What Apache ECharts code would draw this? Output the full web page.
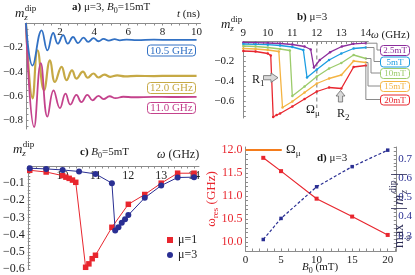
<!DOCTYPE html>
<html>
<head>
<meta charset="utf-8">
<script src="https://cdn.jsdelivr.net/npm/echarts@6.0.0/dist/echarts.min.js"></script>
<style>
html,body{margin:0;padding:0;background:#fff;}
#chart{width:415px;height:275px;}
</style>
</head>
<body>
<div id="chart"></div>
<script>
// ===== Panel a) m_z^dip vs t (ns), mu=3, B0=15mT =====
const aTime105 = [0, 0.39, 0.92, 1.26, 1.6, 1.87, 2.18, 2.45, 2.76, 3.05, 3.38, 3.65, 3.96, 4.25, 4.55, 4.85, 5.2, 5.5, 5.9, 6.5, 7.5, 8.5, 10];
const aMz105   = [0, -0.35, -0.06, -0.225, -0.082, -0.17, -0.10, -0.17, -0.115, -0.165, -0.12, -0.155, -0.125, -0.15, -0.13, -0.145, -0.133, -0.142, -0.136, -0.14, -0.137, -0.139, -0.138];
const aTime120 = [0, 0.39, 0.68, 1.06, 1.41, 1.7, 2.09, 2.38, 2.7, 2.96, 3.34, 3.62, 3.95, 4.25, 4.6, 4.95, 5.35, 5.8, 6.5, 7.5, 8.5, 10];
const aMz120   = [0, -0.62, -0.224, -0.553, -0.306, -0.485, -0.36, -0.47, -0.39, -0.457, -0.40, -0.45, -0.415, -0.448, -0.425, -0.442, -0.43, -0.438, -0.435, -0.436, -0.434, -0.435];
const aTime110 = [0, 0.48, 0.87, 1.26, 1.62, 1.99, 2.32, 2.6, 2.96, 3.25, 3.6, 3.9, 4.25, 4.55, 4.9, 5.25, 5.7, 6.3, 7.5, 8.5, 10];
const aMz110   = [0, -0.855, -0.33, -0.77, -0.553, -0.70, -0.58, -0.67, -0.59, -0.65, -0.59, -0.635, -0.598, -0.625, -0.602, -0.618, -0.606, -0.61, -0.607, -0.608, -0.607];
const aLabels  = ['10.5 GHz', '12.0 GHz', '11.0 GHz'];
const aXTicks  = [2, 4, 6, 8, 10];
const aYTicks  = [-0.8, -0.6, -0.4, -0.2];

// ===== Panel b) m_z^dip vs omega (GHz), mu=3, several B0 =====
const bFields  = ['2.5mT', '5mT', '10mT', '15mT', '20mT'];
const bOmega25 = [9, 9.5, 10, 10.5, 11, 11.5, 11.75, 11.88, 12.12, 12.54, 13.02, 13.49, 14.0];
const bMz25    = [-0.01, -0.012, -0.015, -0.02, -0.03, -0.05, -0.08, -0.26, -0.185, -0.107, -0.05, -0.023, -0.017];
const bOmega5  = [9, 9.5, 10, 10.5, 11, 11.45, 11.6, 12.0, 12.5, 13.0, 13.5, 14.0];
const bMz5     = [-0.025, -0.028, -0.032, -0.04, -0.055, -0.085, -0.36, -0.28, -0.185, -0.12, -0.07, -0.06];
const bOmega10 = [9, 9.5, 10, 10.5, 10.9, 11.0, 11.5, 12.0, 12.5, 13.0, 13.5, 14.0];
const bMz10    = [-0.045, -0.05, -0.06, -0.075, -0.09, -0.545, -0.45, -0.35, -0.27, -0.215, -0.135, -0.17];
const bOmega15 = [9, 9.5, 10, 10.45, 10.6, 11, 11.5, 12.0, 12.5, 13.0, 13.5, 14.0];
const bMz15    = [-0.07, -0.075, -0.085, -0.1, -0.66, -0.6, -0.51, -0.42, -0.37, -0.335, -0.195, -0.21];
const bOmega20 = [9, 9.5, 10, 10.12, 10.22, 10.36, 10.5, 11, 11.5, 12.0, 12.5, 13.0, 13.5, 14.0];
const bMz20    = [-0.095, -0.1, -0.12, -0.14, -0.755, -0.735, -0.72, -0.65, -0.575, -0.5, -0.46, -0.47, -0.255, -0.24];
const bXTicks  = [9, 10, 11, 12, 13, 14];
const bYTicks  = [-0.6, -0.4, -0.2];
const omegaMu  = 12;
const bOmegaMuSpan = [0, -0.665];

// ===== Panel c) m_z^dip vs omega, B0=5mT, mu=1 and mu=3 =====
const cOmegaMu1 = [9, 9.5, 10, 10.1, 10.2, 10.3, 10.4, 10.7, 10.8, 10.9, 11, 11.5, 12, 12.5, 13, 13.5, 14];
const cMzMu1    = [-0.025, -0.035, -0.056, -0.065, -0.072, -0.082, -0.095, -0.59, -0.57, -0.54, -0.52, -0.357, -0.223, -0.166, -0.1, -0.042, -0.042];
const cOmegaMu3 = [9, 9.5, 10, 10.5, 11, 11.5, 11.6, 11.7, 11.8, 11.9, 12, 12.5, 13, 13.5, 14];
const cMzMu3    = [-0.013, -0.017, -0.023, -0.032, -0.046, -0.1, -0.375, -0.357, -0.33, -0.31, -0.286, -0.185, -0.114, -0.067, -0.065];
const cXTicks   = [10, 11, 12, 13, 14];
const cYTicks   = [-0.6, -0.5, -0.4, -0.3, -0.2, -0.1];

// ===== Panel d) omega_res and max|m| vs B0, mu=3 =====
const dB0       = [2.5, 5, 10, 15, 20];
const dOmegaRes = [11.83, 11.54, 10.94, 10.55, 10.15];
const dMaxMz    = [0.28, 0.39, 0.555, 0.66, 0.746];
const dOmegaMuB = [0, 5.1];
const dXTicks   = [0, 5, 10, 15, 20];
const dYLTicks  = [10, 10.5, 11, 11.5, 12];
const dYRTicks  = [0.3, 0.4, 0.5, 0.6, 0.7];

// ---------------------------------------------------------------
const SERIF = '"Liberation Serif","DejaVu Serif",serif';
const AXC = '#8c8c8c';
const C = {
  aBlue:'#3271c4', aGold:'#c6a945', aPink:'#c4428c',
  p:'#8c2d9c', b:'#1b9de2', g:'#9ccb6b', o:'#f4b443', r:'#e8262e',
  red:'#e8262e', navy:'#2a2f93', orange:'#f47c1c'
};
const zip = (xs, ys) => xs.map((x, i) => [x, ys[i]]);
function steps(from, to, st) { const r = []; for (let k = Math.round(from / st); k * st <= to + 1e-9; k++) r.push(+(k * st).toFixed(6)); return r; }
const neg = v => (v < 0 ? '\u2212' : '') + Math.abs(v).toFixed(1);

function axis(o) {
  return {
    type: 'value', gridIndex: o.g, position: o.pos, min: o.min, max: o.max,
    axisLine: { show: true, onZero: false, lineStyle: { color: AXC, width: 1 } },
    axisTick: { show: true, inside: true, length: 2.5, customValues: o.ticks, lineStyle: { color: AXC } },
    axisLabel: { show: true, customValues: o.labels, inside: !!o.inside, margin: o.margin != null ? o.margin : 3,
      color: o.lc || '#222', fontFamily: SERIF, fontSize: o.fs || 11, formatter: o.fmt || neg },
    splitLine: { show: false }
  };
}

const xAxes = [
  axis({ g: 0, pos: 'top', min: 0, max: 10.23, labels: aXTicks, ticks: steps(0.5, 10, 0.5), inside: true, margin: 4, fmt: v => String(v) }),
  axis({ g: 1, pos: 'top', min: 9, max: 14.1, labels: bXTicks, ticks: steps(9.2, 14, 0.2), margin: 3, fmt: v => String(v) }),
  axis({ g: 2, pos: 'top', min: 8.94, max: 14.15, labels: cXTicks, ticks: steps(9, 14, 0.2), inside: true, margin: 4, fs: 12, fmt: v => String(v) }),
  axis({ g: 3, pos: 'bottom', min: 0, max: 21.2, labels: dXTicks, ticks: steps(0, 21, 1), margin: 4, fmt: v => String(v) })
];
const yAxes = [
  axis({ g: 0, pos: 'left', min: -0.871, max: 0, labels: aYTicks, ticks: steps(-0.85, -0.05, 0.05) }),
  axis({ g: 1, pos: 'left', min: -0.765, max: 0, labels: bYTicks, ticks: steps(-0.75, -0.05, 0.05), margin: 9 }),
  axis({ g: 2, pos: 'left', min: -0.603, max: 0, labels: cYTicks, ticks: steps(-0.6, -0.02, 0.02), fs: 12 }),
  axis({ g: 3, pos: 'left', min: 9.8, max: 12.066, labels: dYLTicks, ticks: steps(9.9, 12, 0.1), lc: C.red, fs: 12, fmt: v => v.toFixed(1) }),
  axis({ g: 3, pos: 'right', min: 0.22, max: 0.7625, labels: dYRTicks, ticks: steps(0.24, 0.76, 0.02), lc: C.navy, margin: 2, fmt: v => v.toFixed(1) })
];

const grids = [
  { left: 24.5, top: 23, width: 176, height: 106 },
  { left: 243.3, top: 41.5, width: 125, height: 76.5 },
  { left: 25, top: 166, width: 174, height: 105.5 },
  { left: 245.5, top: 147, width: 157, height: 104 }
];

function ln(name, xi, yi, data, color, o = {}) {
  return Object.assign({
    type: 'line', name, xAxisIndex: xi, yAxisIndex: yi, data,
    symbol: o.symbol || 'none', symbolSize: o.size || 0, showSymbol: !!o.symbol,
    smooth: o.smooth || false, itemStyle: { color },
    lineStyle: { color, width: o.w || 1.2, type: o.type || 'solid' },
    emphasis: { disabled: true }, silent: true, z: o.z || 2
  }, o.extra || {});
}

const bSeriesData = [[bOmega25, bMz25, C.p], [bOmega5, bMz5, C.b], [bOmega10, bMz10, C.g], [bOmega15, bMz15, C.o], [bOmega20, bMz20, C.r]];

const series = [
  ln('a12', 0, 0, zip(aTime120, aMz120), C.aGold, { smooth: 0.45, w: 2.2 }),
  ln('a11', 0, 0, zip(aTime110, aMz110), C.aPink, { smooth: 0.45, w: 1.8 }),
  ln('a105', 0, 0, zip(aTime105, aMz105), C.aBlue, { smooth: 0.45, w: 1.8 }),
  ln('bmu', 1, 1, bOmegaMuSpan.map(v => [omegaMu, v]), '#777', { type: [4, 3], w: 1 }),
  ...bSeriesData.map((s, i) => ln('b' + bFields[i], 1, 1, zip(s[0], s[1]), s[2], { symbol: 'circle', size: 2.5, w: 1.3, z: 3 + i })),
  ln('\u03bc=1', 2, 2, zip(cOmegaMu1, cMzMu1), C.red, { symbol: 'rect', size: 5.5, w: 1 }),
  ln('\u03bc=3', 2, 2, zip(cOmegaMu3, cMzMu3), C.navy, { symbol: 'circle', size: 6, w: 1, z: 3 }),
  ln('dmu', 3, 3, dOmegaMuB.map(b => [b, omegaMu]), C.orange, { w: 2 }),
  ln('dres', 3, 3, zip(dB0, dOmegaRes), C.red, { symbol: 'rect', size: 4, w: 1.2 }),
  ln('dmax', 3, 4, zip(dB0, dMaxMz), C.navy, { symbol: 'rect', size: 3.5, w: 1.2, type: [3, 2] })
];

function R(fs) {
  const s = Math.round(fs * 0.72);
  return {
    b: { fontFamily: SERIF, fontSize: fs, fontWeight: 'bold', lineHeight: fs + 4 },
    i: { fontFamily: SERIF, fontSize: fs, fontStyle: 'italic', lineHeight: fs + 4 },
    n: { fontFamily: SERIF, fontSize: fs, lineHeight: fs + 4 },
    sub: { fontFamily: SERIF, fontSize: s, lineHeight: s + 1, verticalAlign: 'bottom' },
    sup: { fontFamily: SERIF, fontSize: s, lineHeight: s + 1, verticalAlign: 'top' }
  };
}
function T(x, y, text, o = {}) {
  const fs = o.fs || 11;
  return { type: 'text', x, y, rotation: o.rot || 0, silent: true, z: 20,
    style: { text, fill: o.color || '#1a1a1a', font: (o.italic ? 'italic ' : '') + fs + 'px ' + SERIF,
      textAlign: o.align || 'left', textVerticalAlign: 'middle', rich: R(fs) } };
}
function mzdip(x, y, fs = 12, color) {
  return [
    T(x, y, 'm', { fs: fs + 1, italic: true, color }),
    T(x + fs * 0.78, y + fs * 0.32, 'z', { fs: Math.round(fs * 0.72), italic: true, color }),
    T(x + fs * 0.82, y - fs * 0.45, 'dip', { fs: Math.round(fs * 0.72), color })
  ];
}
function box(x, y, w, h, color, text, fs) {
  return [
    { type: 'rect', z: 19, silent: true, shape: { x: x + 0.5, y: y + 0.5, width: w, height: h, r: 3 }, style: { fill: '#fff', stroke: color, lineWidth: 1 } },
    { type: 'text', z: 20, silent: true, x: x + w / 2 + 0.5, y: y + h / 2 + 1, style: { text, fill: color, font: fs + 'px ' + SERIF, textAlign: 'center', textVerticalAlign: 'middle' } }
  ];
}
function arrow(points) {
  return { type: 'polygon', z: 20, silent: true, shape: { points }, style: { fill: '#d9d9d9', stroke: '#6a6a6a', lineWidth: 0.8 } };
}

const chart = echarts.init(document.getElementById('chart'), null, { renderer: 'canvas' });
chart.setOption({
  animation: false,
  backgroundColor: '#fff',
  grid: grids,
  xAxis: xAxes,
  yAxis: yAxes,
  legend: {
    data: [{ name: '\u03bc=1', icon: 'rect' }, { name: '\u03bc=3', icon: 'circle' }],
    orient: 'vertical', left: 162, top: 229, itemWidth: 6, itemHeight: 6, itemGap: 3,
    selectedMode: false, textStyle: { fontFamily: SERIF, fontSize: 12, color: '#1a1a1a' }
  },
  series
});

// annotations
const g = [];
// panel a
g.push(...mzdip(15, 14));
g.push(T(72, 7, '{b|a)}{n| \u03bc=3, }{i|B}{sub|0}{n|=15mT}', { fs: 11 }));
g.push(T(177, 14, '{i|t}{n| (ns)}', { fs: 11 }));
const aBoxColors = [C.aBlue, C.aGold, C.aPink];
const aBoxTops = [44.5, 82, 102];
aLabels.forEach((t, i) => g.push(...box(147, aBoxTops[i], 48, 11, aBoxColors[i], t, 11)));
// panel b
g.push(...mzdip(221, 25));
g.push(T(297, 17, '{b|b)}{n| \u03bc=3}', { fs: 11 }));
g.push(T(371, 35, '{i|\u03c9}{n| (GHz)}', { fs: 11 }));
const bBoxCy = [50, 61.5, 73, 86, 99.5];
const bVx = [377, 374, 371, 368, null];
bSeriesData.forEach((s, i) => {
  const last = s[0].length - 1;
  const p = chart.convertToPixel({ xAxisIndex: 1, yAxisIndex: 1 }, [s[0][last], s[1][last]]);
  const vx = bVx[i] == null ? p[0] : bVx[i];
  g.push({ type: 'polyline', z: 15, silent: true, shape: { points: [[p[0], p[1]], [vx, p[1]], [vx, bBoxCy[i]], [380, bBoxCy[i]]] }, style: { stroke: '#8a8a8a', lineWidth: 1, fill: null } });
  g.push(...box(380, bBoxCy[i] - 5, 29, 10, s[2], bFields[i], 9));
});
g.push(T(252, 80, '{n|R}{sub|1}', { fs: 12 }));
g.push(arrow([[263.5, 75.6], [271, 75.6], [271, 73], [278, 77.7], [271, 82.4], [271, 79.8], [263.5, 79.8]]));
g.push(T(337, 114, '{n|R}{sub|2}', { fs: 12 }));
g.push(arrow([[340.5, 90.5], [345, 96], [342.6, 96], [342.6, 102], [338.4, 102], [338.4, 96], [336, 96]]));
g.push(T(306, 110, '{n|\u03a9}{sub|\u03bc}', { fs: 12 }));
// panel c
g.push(...mzdip(13, 150));
g.push(T(80, 152, '{b|c)}{n| }{i|B}{sub|0}{n|=5mT}', { fs: 11 }));
g.push(T(157, 155, '{i|\u03c9}{n| (GHz)}', { fs: 12 }));
// panel d
g.push(T(317, 158, '{b|d)}{n| \u03bc=3}', { fs: 11 }));
g.push(T(302, 267, '{i|B}{sub|0}{n| (mT)}', { fs: 11 }));
g.push(T(286, 150, '{n|\u03a9}{sub|\u03bc}', { fs: 13 }));
g.push(T(212, 199, '{n|\u03c9}{sub|res}{n| (GHz)}', { fs: 13, rot: Math.PI / 2, align: 'center', color: C.red }));
const RL = '#2b2b55';
g.push({ type: 'group', x: 399, y: 198, rotation: Math.PI / 2, children: [
  T(-50, 0, 'max', { fs: 14, color: RL }),
  T(-43, 9, '\u03c9', { fs: 9, color: RL }),
  T(-12, 0, '|', { fs: 16, color: RL }),
  T(-7, 0, 'm', { fs: 14, italic: true, color: RL }),
  T(4, 5, 'z', { fs: 10, italic: true, color: RL }),
  T(5, -6, 'dip', { fs: 10, color: RL }),
  T(22, 0, '|', { fs: 16, color: RL })
] });

chart.setOption({ graphic: { elements: g } });
</script>
</body>
</html>
